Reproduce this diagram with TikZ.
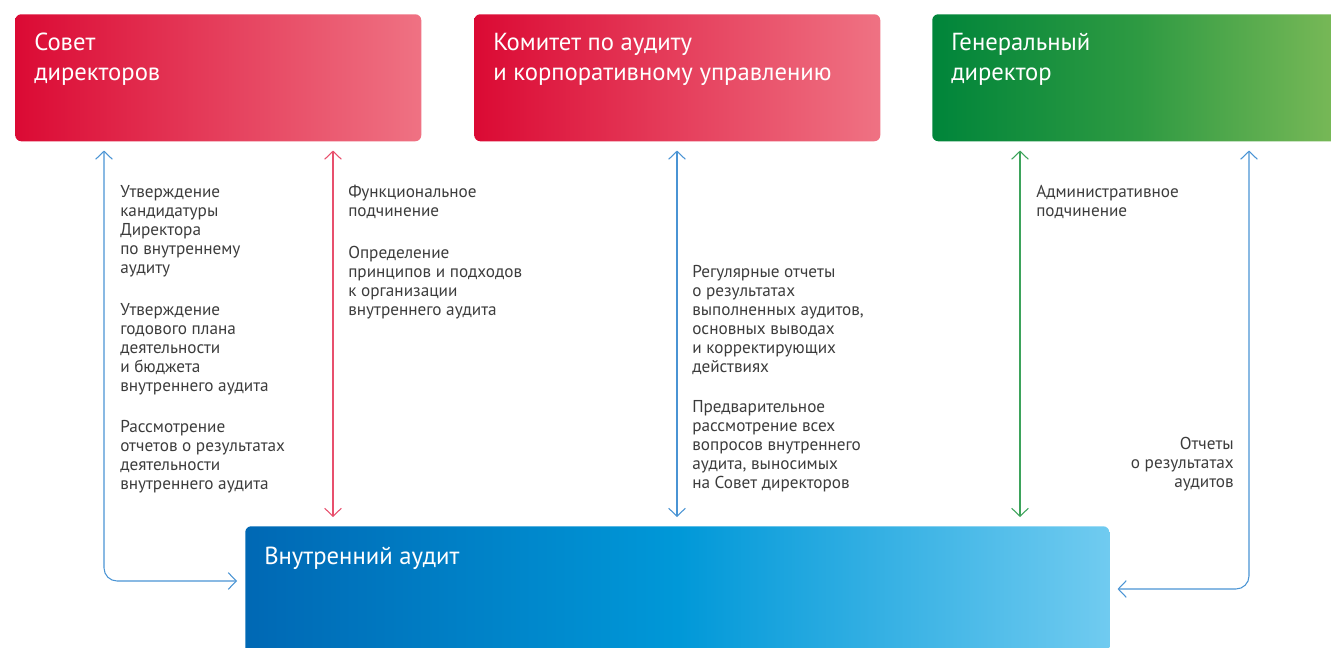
\documentclass[tikz,border=0pt]{standalone}
\usepackage{fontspec}
\setmainfont{PT Sans}
\usetikzlibrary{positioning, arrows.meta, calc}

\definecolor{redL}{HTML}{DB0A34}
\definecolor{redR}{HTML}{EF7283}
\definecolor{greenL}{HTML}{00853A}
\definecolor{greenM}{HTML}{2E9A42}
\definecolor{greenR}{HTML}{7CBA58}
\definecolor{blueL}{HTML}{0068B4}
\definecolor{blueM}{HTML}{0098D8}
\definecolor{blueR}{HTML}{70CBF0}
\definecolor{lineblue}{HTML}{4A94D4}
\definecolor{linered}{HTML}{E8506D}
\definecolor{linegreen}{HTML}{3DA35B}
\definecolor{txtgray}{HTML}{3C3C3C}

\begin{document}
\begin{tikzpicture}[
  x=0.75pt, y=-0.75pt,
  every node/.style = {inner sep=0pt},
  box/.style      = {anchor=north west, rounded corners=4.5pt,
                     minimum height=95.25pt},
  redbox/.style   = {box, minimum width=304.5pt,
                     left color=redL, right color=redR},
  greenbox/.style = {box, minimum width=309.75pt,
                     left color=greenL, right color=greenR, middle color=greenM},
  bluebox/.style  = {box, minimum width=648pt, minimum height=105pt,
                     left color=blueL, right color=blueR, middle color=blueM},
  title/.style    = {anchor=north west, align=left, text=white,
                     font=\fontsize{18.5}{22.5}\selectfont},
  txt/.style      = {anchor=north west, align=left, text=txtgray,
                     font=\fontsize{12.9}{14.25}\selectfont},
  conn/.style     = {line width=0.8pt, rounded corners=9.75pt},
  >={Straight Barb[length=6pt, width=12.5pt]}
]
\useasboundingbox (0,0) rectangle (1331,648);
\clip (0,0) rectangle (1331,648);

% boxes
\node[redbox]   (sovet)   at (15,14)   {};
\node[redbox]   (komitet) at (474,14)  {};
\node[greenbox] (gendir)  at (932,14)  {};
\node[bluebox]  (audit)   at (245,526) {};

\node[title] (sovet-t)   at (34,33)  {Совет\\директоров};
\node[title] (komitet-t) at (493,33) {Комитет по аудиту\\и корпоративному управлению};
\node[title] (gendir-t)  at (951,33) {Генеральный\\директор};
\node[title] (audit-t)   at (264,547) {Внутренний аудит};

% connectors
\draw[conn, lineblue, <->] ($(sovet.south west)+(89,9)$) |- ($(audit.north west)+(-8,55)$);
\draw[conn, linered, <->] ($(sovet.south west)+(318,9)$) -- ($(audit.north west)+(88,-9)$);
\draw[conn, lineblue, <->] ($(komitet.south west)+(203,9)$) -- ($(audit.north west)+(432,-9)$);
\draw[conn, linegreen, <->] ($(gendir.south west)+(88,9)$) -- ($(audit.north west)+(775,-9)$);
\draw[conn, lineblue, <->] ($(gendir.south west)+(317,9)$) |- ($(audit.north east)+(8,63)$);

% texts
\node[txt] (sd-a) at (120,185) {Утверждение\\кандидатуры\\Директора\\по внутреннему\\аудиту};
\node[txt] (sd-b) at (120,303) {Утверждение\\годового плана\\деятельности\\и бюджета\\внутреннего аудита};
\node[txt] (sd-c) at (120,420) {Рассмотрение\\отчетов о результатах\\деятельности\\внутреннего аудита};

\node[txt] (fn-a) at (348,185) {Функциональное\\подчинение};
\node[txt] (fn-b) at (348,246) {Определение\\принципов и подходов\\к организации\\внутреннего аудита};

\node[txt] (km-a) at (692,265) {Регулярные отчеты\\о результатах\\выполненных аудитов,\\основных выводах\\и корректирующих\\действиях};
\node[txt] (km-b) at (692,400) {Предварительное\\рассмотрение всех\\вопросов внутреннего\\аудита, выносимых\\на Совет директоров};

\node[txt] (gd-a) at (1036,185) {Административное\\подчинение};
\node[txt, anchor=north east, align=right] (gd-b) at (1234,437) {Отчеты\\о результатах\\аудитов};

\end{tikzpicture}
\end{document}
